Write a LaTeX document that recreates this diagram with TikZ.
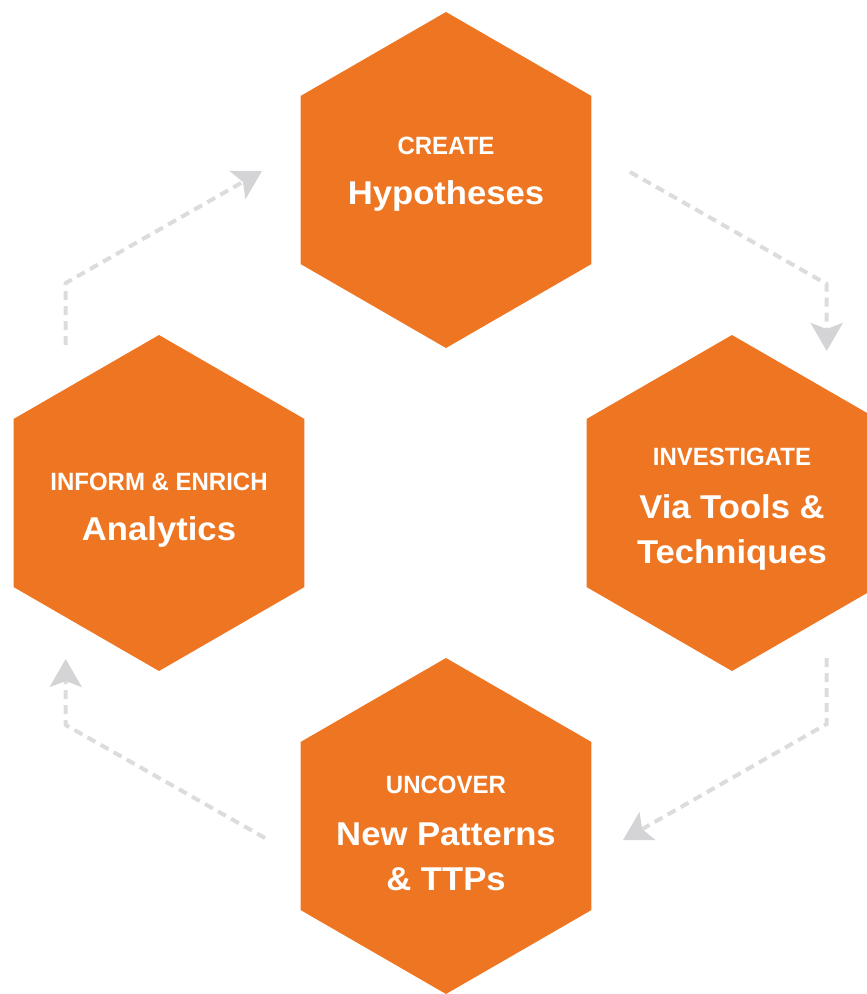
\documentclass[tikz,border=0pt]{standalone}
\usepackage{fontspec}
\usepackage{xcolor}
\usetikzlibrary{shapes.geometric,arrows.meta}
\newfontfamily\kickerfont{Liberation Sans}[FakeStretch=0.96]
\newfontfamily\titlefont{Liberation Sans}[FakeStretch=1.05]
\definecolor{hexorange}{HTML}{EE7623}
\definecolor{dashgray}{HTML}{DCDCDC}
\definecolor{tipgray}{HTML}{D4D4D6}

\begin{document}
\begin{tikzpicture}[x=1pt,y=-1pt]
			\tikzset{hexa/.style = {shape=regular polygon,regular polygon sides=6,shape border rotate=30,
					fill=hexorange,minimum size=336pt,inner sep=0pt,outer sep=0pt}}
			\tikzset{kicker/.style = {text=white,anchor=base,inner sep=0pt,
					font=\kickerfont\bfseries\fontsize{25}{30}\selectfont}}
			\tikzset{title/.style = {text=white,anchor=base,inner sep=0pt,align=center,
					font=\titlefont\bfseries\fontsize{33}{45}\selectfont}}
			\tikzset{edge/.style = {dashgray,line width=4pt,dash pattern=on 9pt off 6pt,
					-{Stealth[length=28pt,width=32pt,inset=6pt,color=tipgray]}}}
			\useasboundingbox (0,0) rectangle (867,994);
			% hexagons
			\node[hexa] (cr) at (446,180) {};
			\node[hexa] (inv) at (732,503) {};
			\node[hexa] (unc) at (446,826) {};
			\node[hexa] (inf) at (159,503) {};
			
			% labels (base of a two-line title is its last line)
			\node[kicker] (crk) at (446,154) {CREATE};
			\node[title] (crt) at (446,204) {Hypotheses};
			\node[kicker] (invk) at (732,465) {INVESTIGATE};
			\node[title] (invt) at (732,563) {Via Tools \&\\Techniques};
			\node[kicker] (unck) at (446,793) {UNCOVER};
			\node[title] (unct) at (446,890) {New Patterns\\\& TTPs};
			\node[kicker] (infk) at (159,490) {INFORM \& ENRICH};
			\node[title] (inft) at (159,540) {Analytics};
			
			%arrows
			\coordinate (p1) at (630,172);
			\coordinate (p2) at (826.7,284);
			\coordinate (p3) at (826.7,351);
			\coordinate (q1) at (826.7,658);
			\coordinate (q2) at (826.7,724);
			\coordinate (q3) at (623,840);
			\coordinate (r1) at (265,838);
			\coordinate (r2) at (65.7,725);
			\coordinate (r3) at (65.7,659);
			\coordinate (s1) at (65.7,345);
			\coordinate (s2) at (65.7,283);
			\coordinate (s3) at (262,171);
			
			\draw[edge] (p1) -- (p2) -- (p3);
			\draw[edge] (q1) -- (q2) -- (q3);
			\draw[edge] (r1) -- (r2) -- (r3);
			\draw[edge] (s1) -- (s2) -- (s3);
\end{tikzpicture}
\end{document}
